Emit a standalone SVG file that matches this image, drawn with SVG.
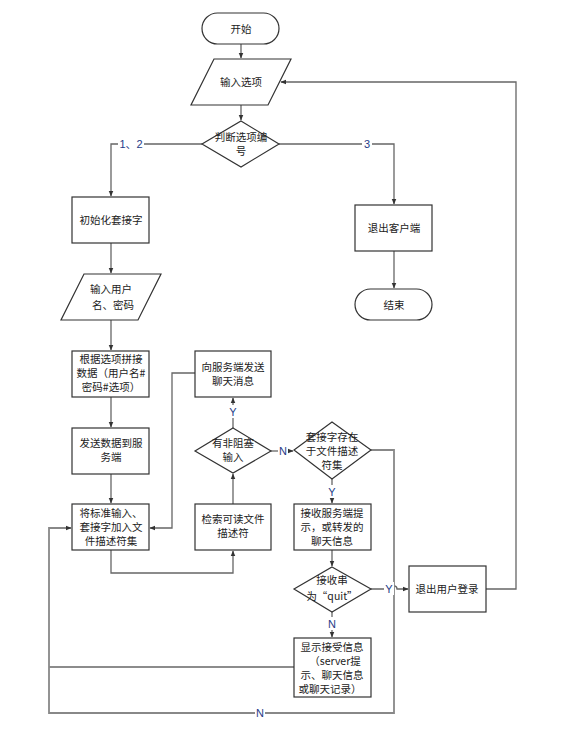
<svg xmlns="http://www.w3.org/2000/svg" width="561" height="736" viewBox="0 0 561 736">
<defs>
<marker id="ah" viewBox="0 0 10 10" refX="9" refY="5" markerWidth="6" markerHeight="6" orient="auto-start-reverse" markerUnits="userSpaceOnUse"><path d="M0,1 L10,5 L0,9 z" fill="#333"/></marker>
<style>
.n{fill:#fff;stroke:#333;stroke-width:1.2}
.t{font-family:"Noto Sans CJK SC","Liberation Sans",sans-serif;font-size:10.5px;fill:#222;text-anchor:middle}
.c{fill:none;stroke:#666;stroke-width:1.3}
.cg{fill:none;stroke:#888;stroke-width:1.8}
.l{font-family:"Liberation Sans","Noto Sans CJK SC",sans-serif;font-size:11px;fill:#1f3c88;text-anchor:middle}
</style>
</defs>
<rect width="561" height="736" fill="#fff"/>
<g id="connectors">
<path class="c" d="M241,44 V58" marker-end="url(#ah)"/>
<path class="c" d="M241,105 V120" marker-end="url(#ah)"/>
<path class="c" d="M202,144 H111 V196" marker-end="url(#ah)"/>
<path class="c" d="M279,144 H394 V204" marker-end="url(#ah)"/>
<path class="c" d="M394,251 V288" marker-end="url(#ah)"/>
<path class="c" d="M111,243 V273" marker-end="url(#ah)"/>
<path class="c" d="M111,320 V350" marker-end="url(#ah)"/>
<path class="c" d="M111,397 V427" marker-end="url(#ah)"/>
<path class="c" d="M111,474 V503" marker-end="url(#ah)"/>
<path class="c" d="M111,550 V573 H233 V551" marker-end="url(#ah)"/>
<path class="c" d="M233,504 V474" marker-end="url(#ah)"/>
<path class="c" d="M233,428 V398" marker-end="url(#ah)"/>
<path class="c" d="M195,373 H172 V528 H150" marker-end="url(#ah)"/>
<path class="c" d="M271,451 H293" marker-end="url(#ah)"/>
<path class="c" d="M332,479 V503" marker-end="url(#ah)"/>
<path class="c" d="M332,550 V566" marker-end="url(#ah)"/>
<path class="c" d="M332,612 V637" marker-end="url(#ah)"/>
<path class="c" d="M371,589 H391 A3,3 0 0 1 397,589 H408" marker-end="url(#ah)"/>
<path class="c" d="M486,589 H516 V82 H281" marker-end="url(#ah)"/>
<path class="c" d="M294,667 H49"/>
<path class="cg" d="M371,450 H394 V713 H49 V528 H71" marker-end="url(#ah)"/>
<rect x="118" y="137" width="26" height="13" fill="#fff"/>
<text class="l" x="131" y="148">1、2</text>
<rect x="362" y="137" width="10" height="13" fill="#fff"/>
<text class="l" x="367" y="148">3</text>
<rect x="228" y="405" width="10" height="13" fill="#fff"/>
<text class="l" x="233" y="416">Y</text>
<rect x="278" y="444" width="10" height="13" fill="#fff"/>
<text class="l" x="283" y="455">N</text>
<rect x="327" y="485" width="10" height="13" fill="#fff"/>
<text class="l" x="332" y="496">Y</text>
<rect x="327" y="617" width="10" height="13" fill="#fff"/>
<text class="l" x="332" y="628">N</text>
<rect x="384" y="582" width="10" height="13" fill="#fff"/>
<text class="l" x="389" y="593">Y</text>
<rect x="255" y="706" width="10" height="13" fill="#fff"/>
<text class="l" x="260" y="717">N</text>
</g>
<g id="start"><rect class="n" x="202" y="13" width="77" height="31" rx="15.5"/><text class="t" x="241" y="33">开始</text></g>
<g id="input-option"><polygon class="n" points="214,59 291,59 268,105 191,105"/><text class="t" x="241" y="86">输入选项</text></g>
<g id="judge-option"><polygon class="n" points="241,121 279,144 241,167 202,144"/><text class="t" x="241" y="141">判断选项编</text><text class="t" x="241" y="155">号</text></g>
<g id="init-socket"><rect class="n" x="72" y="197" width="77" height="46"/><text class="t" x="111" y="224">初始化套接字</text></g>
<g id="input-user"><polygon class="n" points="84,274 161,274 138,320 61,320"/><text class="t" x="111" y="293">输入用户</text><text class="t" x="113" y="309">名、密码</text></g>
<g id="exit-client"><rect class="n" x="355" y="205" width="77" height="46"/><text class="t" x="394" y="232">退出客户端</text></g>
<g id="end"><rect class="n" x="355" y="289" width="77" height="31" rx="15.5"/><text class="t" x="394" y="309">结束</text></g>
<g id="build-data"><rect class="n" x="72" y="351" width="77" height="46"/><text class="t" x="111" y="363">根据选项拼接</text><text class="t" x="111" y="377">数据（用户名#</text><text class="t" x="111" y="391">密码#选项）</text></g>
<g id="send-data"><rect class="n" x="72" y="428" width="77" height="46"/><text class="t" x="111" y="447">发送数据到服</text><text class="t" x="111" y="461">务端</text></g>
<g id="add-fdset"><rect class="n" x="72" y="504" width="77" height="46"/><text class="t" x="111" y="517">将标准输入、</text><text class="t" x="111" y="531">套接字加入文</text><text class="t" x="111" y="545">件描述符集</text></g>
<g id="select-fd"><rect class="n" x="195" y="504" width="76" height="46"/><text class="t" x="233" y="523">检索可读文件</text><text class="t" x="233" y="537">描述符</text></g>
<g id="send-chat"><rect class="n" x="195" y="351" width="76" height="46"/><text class="t" x="233" y="371">向服务端发送</text><text class="t" x="233" y="385">聊天消息</text></g>
<g id="nonblock-input"><polygon class="n" points="233,428 271,451 233,473 195,451"/><text class="t" x="233" y="447">有非阻塞</text><text class="t" x="233" y="461">输入</text></g>
<g id="socket-in-set"><polygon class="n" points="332,422 371,450 332,479 294,450"/><text class="t" x="332" y="441">套接字存在</text><text class="t" x="332" y="455">于文件描述</text><text class="t" x="332" y="469">符集</text></g>
<g id="recv-info"><rect class="n" x="294" y="504" width="77" height="46"/><text class="t" x="332" y="517">接收服务端提</text><text class="t" x="332" y="531">示，或转发的</text><text class="t" x="332" y="545">聊天信息</text></g>
<g id="is-quit"><polygon class="n" points="332,567 371,589 332,612 294,589"/><text class="t" x="332" y="584">接收串</text><text class="t" x="332" y="600">为“quit”</text></g>
<g id="exit-login"><rect class="n" x="409" y="566" width="77" height="46"/><text class="t" x="447" y="593">退出用户登录</text></g>
<g id="show-info"><rect class="n" x="294" y="638" width="77" height="59"/><text class="t" x="332" y="651">显示接受信息</text><text class="t" x="335" y="665">（server提</text><text class="t" x="332" y="679">示、聊天信息</text><text class="t" x="330" y="693">或聊天记录）</text></g>
</svg>
